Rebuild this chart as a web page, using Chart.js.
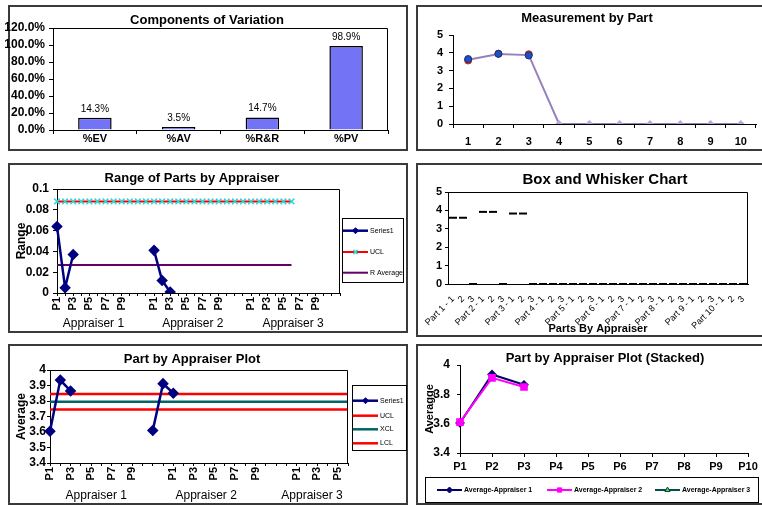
<!DOCTYPE html>
<html>
<head>
<meta charset="utf-8">
<title>Gage R&amp;R</title>
<script src="https://cdn.jsdelivr.net/npm/chart.js@4.4.1/dist/chart.umd.min.js"></script>
<style>
  body { margin: 0; width: 762px; height: 506px; overflow: hidden; position: relative; background: #fff; }
  .panel { position: absolute; border: 2px solid #3a3a3a; box-sizing: border-box; }
  canvas { position: absolute; }
</style>
</head>
<body>
<div class="panel" style="left:8px;top:5px;width:400px;height:146px"></div>
<div class="panel" style="left:416px;top:5px;width:348px;height:146px"></div>
<div class="panel" style="left:8px;top:163px;width:400px;height:170px"></div>
<div class="panel" style="left:416px;top:163px;width:348px;height:174px"></div>
<div class="panel" style="left:8px;top:344px;width:400px;height:161px"></div>
<div class="panel" style="left:416px;top:344px;width:348px;height:161px"></div>

<canvas id="cov" width="408" height="146" style="left:0;top:5px"></canvas>
<canvas id="meas" width="346" height="146" style="left:416px;top:5px"></canvas>
<canvas id="range" width="400" height="170" style="left:8px;top:163px"></canvas>
<canvas id="box" width="346" height="174" style="left:416px;top:163px"></canvas>
<canvas id="avg" width="400" height="161" style="left:8px;top:344px"></canvas>
<canvas id="stack" width="346" height="162" style="left:416px;top:344px"></canvas>

<script>
const FONT = "'Liberation Sans', Arial, Helvetica, sans-serif";

// components of variation
const covLabels = ['%EV', '%AV', '%R&R', '%PV'];
const covValues = [14.3, 3.5, 14.7, 98.9];

// measurement by part
const partNumbers = ['1', '2', '3', '4', '5', '6', '7', '8', '9', '10'];
const measAverage = [3.61, 3.93, 3.87, 0, 0, 0, 0, 0, 0, 0];
const measAppraiser1 = [3.57, 3.95, 3.92, null, null, null, null, null, null, null];
const measAppraiser2 = [3.65, 3.94, 3.85, null, null, null, null, null, null, null];

// range / average charts
const partLabels = ['P1', 'P2', 'P3', 'P4', 'P5', 'P6', 'P7', 'P8', 'P9', 'P10'];
const appraisers = ['Appraiser 1', 'Appraiser 2', 'Appraiser 3'];
const rangeApp1 = [0.064, 0.005, 0.037, null, null, null, null, null, null, null];
const rangeApp2 = [0.041, 0.012, 0.001, null, null, null, null, null, null, null];
const rangeApp3 = [null, null, null, null, null, null, null, null, null, null];
const rangeUCL = 0.088;
const rangeRbar = 0.027;

const avgApp1 = [3.605, 3.935, 3.865, null, null, null, null, null, null, null];
const avgApp2 = [3.61, 3.912, 3.85, null, null, null, null, null, null, null];
const avgApp3 = [null, null, null, null, null, null, null, null, null, null];
const avgUCL = 3.845;
const avgXCL = 3.795;
const avgLCL = 3.745;

// box and whisker
const boxParts = ['Part 1', 'Part 2', 'Part 3', 'Part 4', 'Part 5', 'Part 6', 'Part 7', 'Part 8', 'Part 9', 'Part 10'];
const boxMarks = [3.6, 3.6, 0, 3.92, 3.92, 0, 3.83, 3.83, 0,
                  0, 0, 0, 0, 0, 0, 0, 0, 0, 0, 0, 0,
                  0, 0, 0, 0, 0, 0, 0, 0, 0];

Chart.defaults.font.family = FONT;
Chart.defaults.color = '#000';
Chart.defaults.animation = false;
Chart.defaults.responsive = false;
Chart.defaults.plugins.legend.display = false;
Chart.defaults.plugins.tooltip.enabled = false;

// labels P1..P10 plus two blank slots per appraiser
const groupedLabels = appraisers.flatMap(() => [...partLabels, '', '']);
const rangeSeries = [...rangeApp1, null, null, ...rangeApp2, null, null, ...rangeApp3, null, null];
const limitLine = (v, n, total) => groupedLabels.slice(0, total).map((_, i) => i < n ? v : null);
const avgSeries = [...avgApp1, ...avgApp2, ...avgApp3];
const boxLabels = boxParts.flatMap(p => [p + ' - 1', '2', '3']);

const trimNum = v => String(+v.toFixed(3));
const oddOnly = function (v, i) { return i % 2 === 0 ? this.getLabelForValue(v) : ''; };

function axisLines(extra) {
    return Object.assign({
        grid: { drawOnChartArea: false, color: '#000', tickLength: 4 },
        border: { color: '#000' }
    }, extra);
}

// titles, plot frame, group captions and an excel style legend
function decorate(o) {
    return {
        id: 'deco',
        afterDatasetsDraw(chart) {
            if (!o.barLabels) return;
            const ctx = chart.ctx;
            const ds = chart.data.datasets[0];
            ctx.save();
            ctx.font = o.barLabels + 'px ' + FONT;
            ctx.fillStyle = '#000';
            ctx.textAlign = 'center';
            ctx.textBaseline = 'bottom';
            chart.getDatasetMeta(0).data.forEach((bar, i) => {
                ctx.fillText(ds.data[i].toFixed(1) + '%', bar.x, bar.y - 4);
            });
            ctx.restore();
        },
        afterDraw(chart) {
            const ctx = chart.ctx, a = chart.chartArea;
            ctx.save();
            ctx.fillStyle = '#000';
            ctx.strokeStyle = '#000';
            ctx.lineWidth = 1;
            if (o.box) {
                const t = Math.round(a.top) + 0.5, r = Math.round(a.right) - 0.5;
                ctx.beginPath();
                ctx.moveTo(a.left, t);
                ctx.lineTo(r, t);
                ctx.lineTo(r, a.bottom);
                ctx.stroke();
            }
            if (o.title) {
                ctx.font = 'bold ' + o.title.size + 'px ' + FONT;
                ctx.textAlign = 'center';
                ctx.textBaseline = 'middle';
                ctx.fillText(o.title.text, o.title.x, o.title.y);
            }
            if (o.groups) {
                const xs = chart.scales.x;
                ctx.font = o.groups.size + 'px ' + FONT;
                ctx.textAlign = 'center';
                ctx.textBaseline = 'middle';
                o.groups.labels.forEach((t, i) => ctx.fillText(t, xs.getPixelForValue(o.groups.at[i]), o.groups.y));
            }
            if (o.legend) {
                const L = o.legend;
                const [bx, by, bw, bh] = L.box;
                ctx.strokeStyle = '#000';
                ctx.lineWidth = 1;
                ctx.strokeRect(bx + 0.5, by + 0.5, bw, bh);
                chart.data.datasets.forEach((ds, i) => {
                    const [x, y] = L.at[i];
                    ctx.strokeStyle = ds.borderColor;
                    ctx.lineWidth = ds.borderWidth;
                    ctx.beginPath();
                    ctx.moveTo(x, y);
                    ctx.lineTo(x + L.len, y);
                    ctx.stroke();
                    if (ds.pointRadius) {
                        ctx.fillStyle = ds.pointBackgroundColor || ds.borderColor;
                        ctx.strokeStyle = ds.pointBorderColor || ds.borderColor;
                        ctx.lineWidth = ds.pointBorderWidth || 1;
                        Chart.helpers.drawPoint(ctx, {
                            pointStyle: ds.pointStyle, radius: Math.min(ds.pointRadius, 3),
                            borderWidth: ctx.lineWidth, rotation: 0
                        }, x + L.len / 2, y);
                    }
                    ctx.fillStyle = '#000';
                    ctx.font = (L.bold ? 'bold ' : '') + L.size + 'px ' + FONT;
                    ctx.textAlign = 'left';
                    ctx.textBaseline = 'middle';
                    ctx.fillText(ds.label, x + L.len + 2, y);
                });
            }
            ctx.restore();
        }
    };
}

new Chart(document.getElementById('cov'), {
    type: 'bar',
    data: {
        labels: covLabels,
        datasets: [{
            data: covValues,
            backgroundColor: '#7373f5',
            borderColor: '#000',
            borderWidth: 1.5,
            barPercentage: 0.4,
            categoryPercentage: 1
        }]
    },
    options: {
        layout: { padding: { left: 0, top: 23, right: 20, bottom: 0 } },
        scales: {
            x: axisLines({
                ticks: { font: { size: 11, weight: 'bold' }, padding: -2 },
                afterFit: s => { s.height = 21; }
            }),
            y: axisLines({
                min: 0, max: 120,
                ticks: { stepSize: 20, autoSkip: false, callback: v => v.toFixed(1) + '%', font: { size: 12, weight: 'bold' }, padding: 4 },
                afterFit: s => { s.width = 53; }
            })
        }
    },
    plugins: [decorate({ box: true, barLabels: 10, title: { text: 'Components of Variation', x: 207, y: 15, size: 13 } })]
});

new Chart(document.getElementById('meas'), {
    type: 'line',
    data: {
        labels: partNumbers,
        datasets: [
            { label: 'Appraiser 2', data: measAppraiser2, showLine: false, pointRadius: 3.5,
              pointBackgroundColor: '#1f50c4', pointBorderColor: '#16307a', pointBorderWidth: 1 },
            { label: 'Appraiser 1', data: measAppraiser1, showLine: false, pointRadius: 3.5,
              pointBackgroundColor: '#e8401c', pointBorderColor: '#b02a10', pointBorderWidth: 1 },
            { label: 'Average', data: measAverage, borderColor: '#9681bd', borderWidth: 2,
              pointStyle: 'rectRot', pointRadius: 2.5, pointBackgroundColor: '#b9a8dc', pointBorderColor: '#b9a8dc' }
        ]
    },
    options: {
        layout: { padding: { left: 0, top: 30, right: 0, bottom: 0 } },
        scales: {
            x: axisLines({
                offset: true,
                grid: { offset: true, drawOnChartArea: false, color: '#000', tickLength: 4 },
                ticks: { font: { size: 11, weight: 'bold' }, padding: 7 },
                afterFit: s => { s.height = 27; }
            }),
            y: axisLines({
                min: 0, max: 5,
                ticks: { stepSize: 1, autoSkip: false, font: { size: 11, weight: 'bold' }, padding: 6 },
                afterFit: s => { s.width = 37; }
            })
        }
    },
    plugins: [decorate({ title: { text: 'Measurement by Part', x: 171, y: 13, size: 13 } })]
});

new Chart(document.getElementById('range'), {
    type: 'line',
    data: {
        labels: groupedLabels,
        datasets: [
            { label: 'Series1', data: rangeSeries, borderColor: '#000080', borderWidth: 2.5,
              pointStyle: 'rectRot', pointRadius: 4, pointBackgroundColor: '#000080', pointBorderColor: '#000080' },
            { label: 'UCL', data: limitLine(rangeUCL, 30, 36), borderColor: '#ff0000', borderWidth: 2,
              pointStyle: 'crossRot', pointRadius: 4, pointBorderColor: '#2fd8d8', pointBorderWidth: 1.5 },
            { label: 'R Average', data: limitLine(rangeRbar, 30, 36), borderColor: '#660066', borderWidth: 2, pointRadius: 0 }
        ]
    },
    options: {
        layout: { padding: { left: 0, top: 26, right: 68, bottom: 0 } },
        scales: {
            x: axisLines({
                grid: { drawOnChartArea: false, color: '#000', tickLength: 3 },
                ticks: { autoSkip: false, minRotation: 90, maxRotation: 90, font: { size: 11, weight: 'bold' }, padding: 1, callback: oddOnly },
                afterFit: s => { s.height = 40; }
            }),
            y: axisLines({
                min: 0, max: 0.1,
                ticks: { stepSize: 0.02, autoSkip: false, callback: trimNum, font: { size: 12, weight: 'bold' }, padding: 4 },
                title: { display: true, text: 'Range', font: { size: 12, weight: 'bold' }, padding: { top: 6, bottom: 0 } },
                afterFit: s => { s.width = 49; }
            })
        }
    },
    plugins: [decorate({
        box: true,
        title: { text: 'Range of Parts by Appraiser', x: 184, y: 15, size: 13 },
        groups: { labels: appraisers, at: [4.5, 16.8, 29.2], y: 161, size: 12 },
        legend: { box: [334, 55, 61, 64], at: [[335, 67.7], [335, 89], [335, 109.7]], len: 25, size: 7 }
    })]
});

new Chart(document.getElementById('box'), {
    type: 'line',
    data: {
        labels: boxLabels,
        datasets: [{ label: 'Measurements', data: boxMarks, showLine: false, clip: false,
                     pointStyle: 'line', pointRadius: 4, pointBorderWidth: 2, pointBorderColor: '#000', borderColor: '#000' }]
    },
    options: {
        layout: { padding: { left: 0, top: 29, right: 14, bottom: 0 } },
        scales: {
            x: axisLines({
                offset: true,
                grid: { display: false },
                ticks: { autoSkip: false, minRotation: 45, maxRotation: 45, font: { size: 9 }, padding: 2 },
                title: { display: true, text: 'Parts By Appraiser', font: { size: 11, weight: 'bold' }, padding: { top: 0, bottom: 1.4 } },
                afterFit: s => { s.height = 53; }
            }),
            y: axisLines({
                min: 0, max: 5,
                grid: { drawOnChartArea: false, color: '#000', tickLength: 3 },
                ticks: { stepSize: 1, autoSkip: false, font: { size: 11, weight: 'bold' }, padding: 3 },
                afterFit: s => { s.width = 32; }
            })
        }
    },
    plugins: [decorate({ box: true, title: { text: 'Box and Whisker Chart', x: 189, y: 17, size: 15 } })]
});

new Chart(document.getElementById('avg'), {
    type: 'line',
    data: {
        labels: groupedLabels.slice(0, 30),
        datasets: [
            { label: 'Series1', data: avgSeries, borderColor: '#000080', borderWidth: 2.5,
              pointStyle: 'rectRot', pointRadius: 4, pointBackgroundColor: '#000080', pointBorderColor: '#000080' },
            { label: 'UCL', data: limitLine(avgUCL, 30, 30), borderColor: '#ff0000', borderWidth: 2.5, pointRadius: 0 },
            { label: 'XCL', data: limitLine(avgXCL, 30, 30), borderColor: '#006666', borderWidth: 2.5, pointRadius: 0 },
            { label: 'LCL', data: limitLine(avgLCL, 30, 30), borderColor: '#ff0000', borderWidth: 2.5, pointRadius: 0 }
        ]
    },
    options: {
        layout: { padding: { left: 0, top: 26, right: 60, bottom: 0 } },
        scales: {
            x: axisLines({
                grid: { drawOnChartArea: false, color: '#000', tickLength: 3 },
                ticks: { autoSkip: false, minRotation: 90, maxRotation: 90, font: { size: 11, weight: 'bold' }, padding: 1, callback: oddOnly },
                afterFit: s => { s.height = 42; }
            }),
            y: axisLines({
                min: 3.4, max: 4,
                grid: { drawOnChartArea: false, color: '#000', tickLength: 3 },
                ticks: { stepSize: 0.1, autoSkip: false, callback: trimNum, font: { size: 12, weight: 'bold' }, padding: 1 },
                title: { display: true, text: 'Average', font: { size: 12, weight: 'bold' }, padding: { top: 6, bottom: 0 } },
                afterFit: s => { s.width = 42; }
            })
        }
    },
    plugins: [decorate({
        box: true,
        title: { text: 'Part by Appraiser Plot', x: 184, y: 15, size: 13 },
        groups: { labels: appraisers, at: [4.5, 15.2, 25.5], y: 152, size: 12 },
        legend: { box: [344, 41, 54, 65], at: [[345, 56.7], [345, 71.7], [345, 85.3], [345, 99.3]], len: 25, size: 7 }
    })]
});

new Chart(document.getElementById('stack'), {
    type: 'line',
    data: {
        labels: partLabels,
        datasets: [
            { label: 'Average-Appraiser 1', data: avgApp1, order: 1, borderColor: '#000066', borderWidth: 2,
              pointStyle: 'rectRot', pointRadius: 3.5, pointBackgroundColor: '#000066', pointBorderColor: '#000066' },
            { label: 'Average-Appraiser 2', data: avgApp2, order: 0, borderColor: '#ff00ff', borderWidth: 2,
              pointStyle: 'rect', pointRadius: 4, pointBackgroundColor: '#ff00ff', pointBorderColor: '#ff00ff' },
            { label: 'Average-Appraiser 3', data: avgApp3, order: 2, borderColor: '#004d4d', borderWidth: 2,
              pointStyle: 'triangle', pointRadius: 3.5, pointBackgroundColor: '#66cc33', pointBorderColor: '#004d4d' }
        ]
    },
    options: {
        layout: { padding: { left: 0, top: 21, right: 14, bottom: 0 } },
        scales: {
            x: axisLines({
                ticks: { font: { size: 11, weight: 'bold' }, padding: 3 },
                afterFit: s => { s.height = 53; }
            }),
            y: axisLines({
                min: 3.4, max: 4,
                grid: { drawOnChartArea: false, color: '#000', tickLength: 3 },
                ticks: { stepSize: 0.2, autoSkip: false, callback: trimNum, font: { size: 12, weight: 'bold' }, padding: 7 },
                title: { display: true, text: 'Averagge', font: { size: 11, weight: 'bold' }, padding: { top: 7.4, bottom: 0 } },
                afterFit: s => { s.width = 44; }
            })
        }
    },
    plugins: [decorate({
        title: { text: 'Part by Appraiser Plot (Stacked)', x: 189, y: 14, size: 13 },
        legend: { box: [9, 133, 333, 25], at: [[21, 146], [131, 146], [239, 146]], len: 25, size: 7, bold: true }
    })]
});
</script>
</body>
</html>
